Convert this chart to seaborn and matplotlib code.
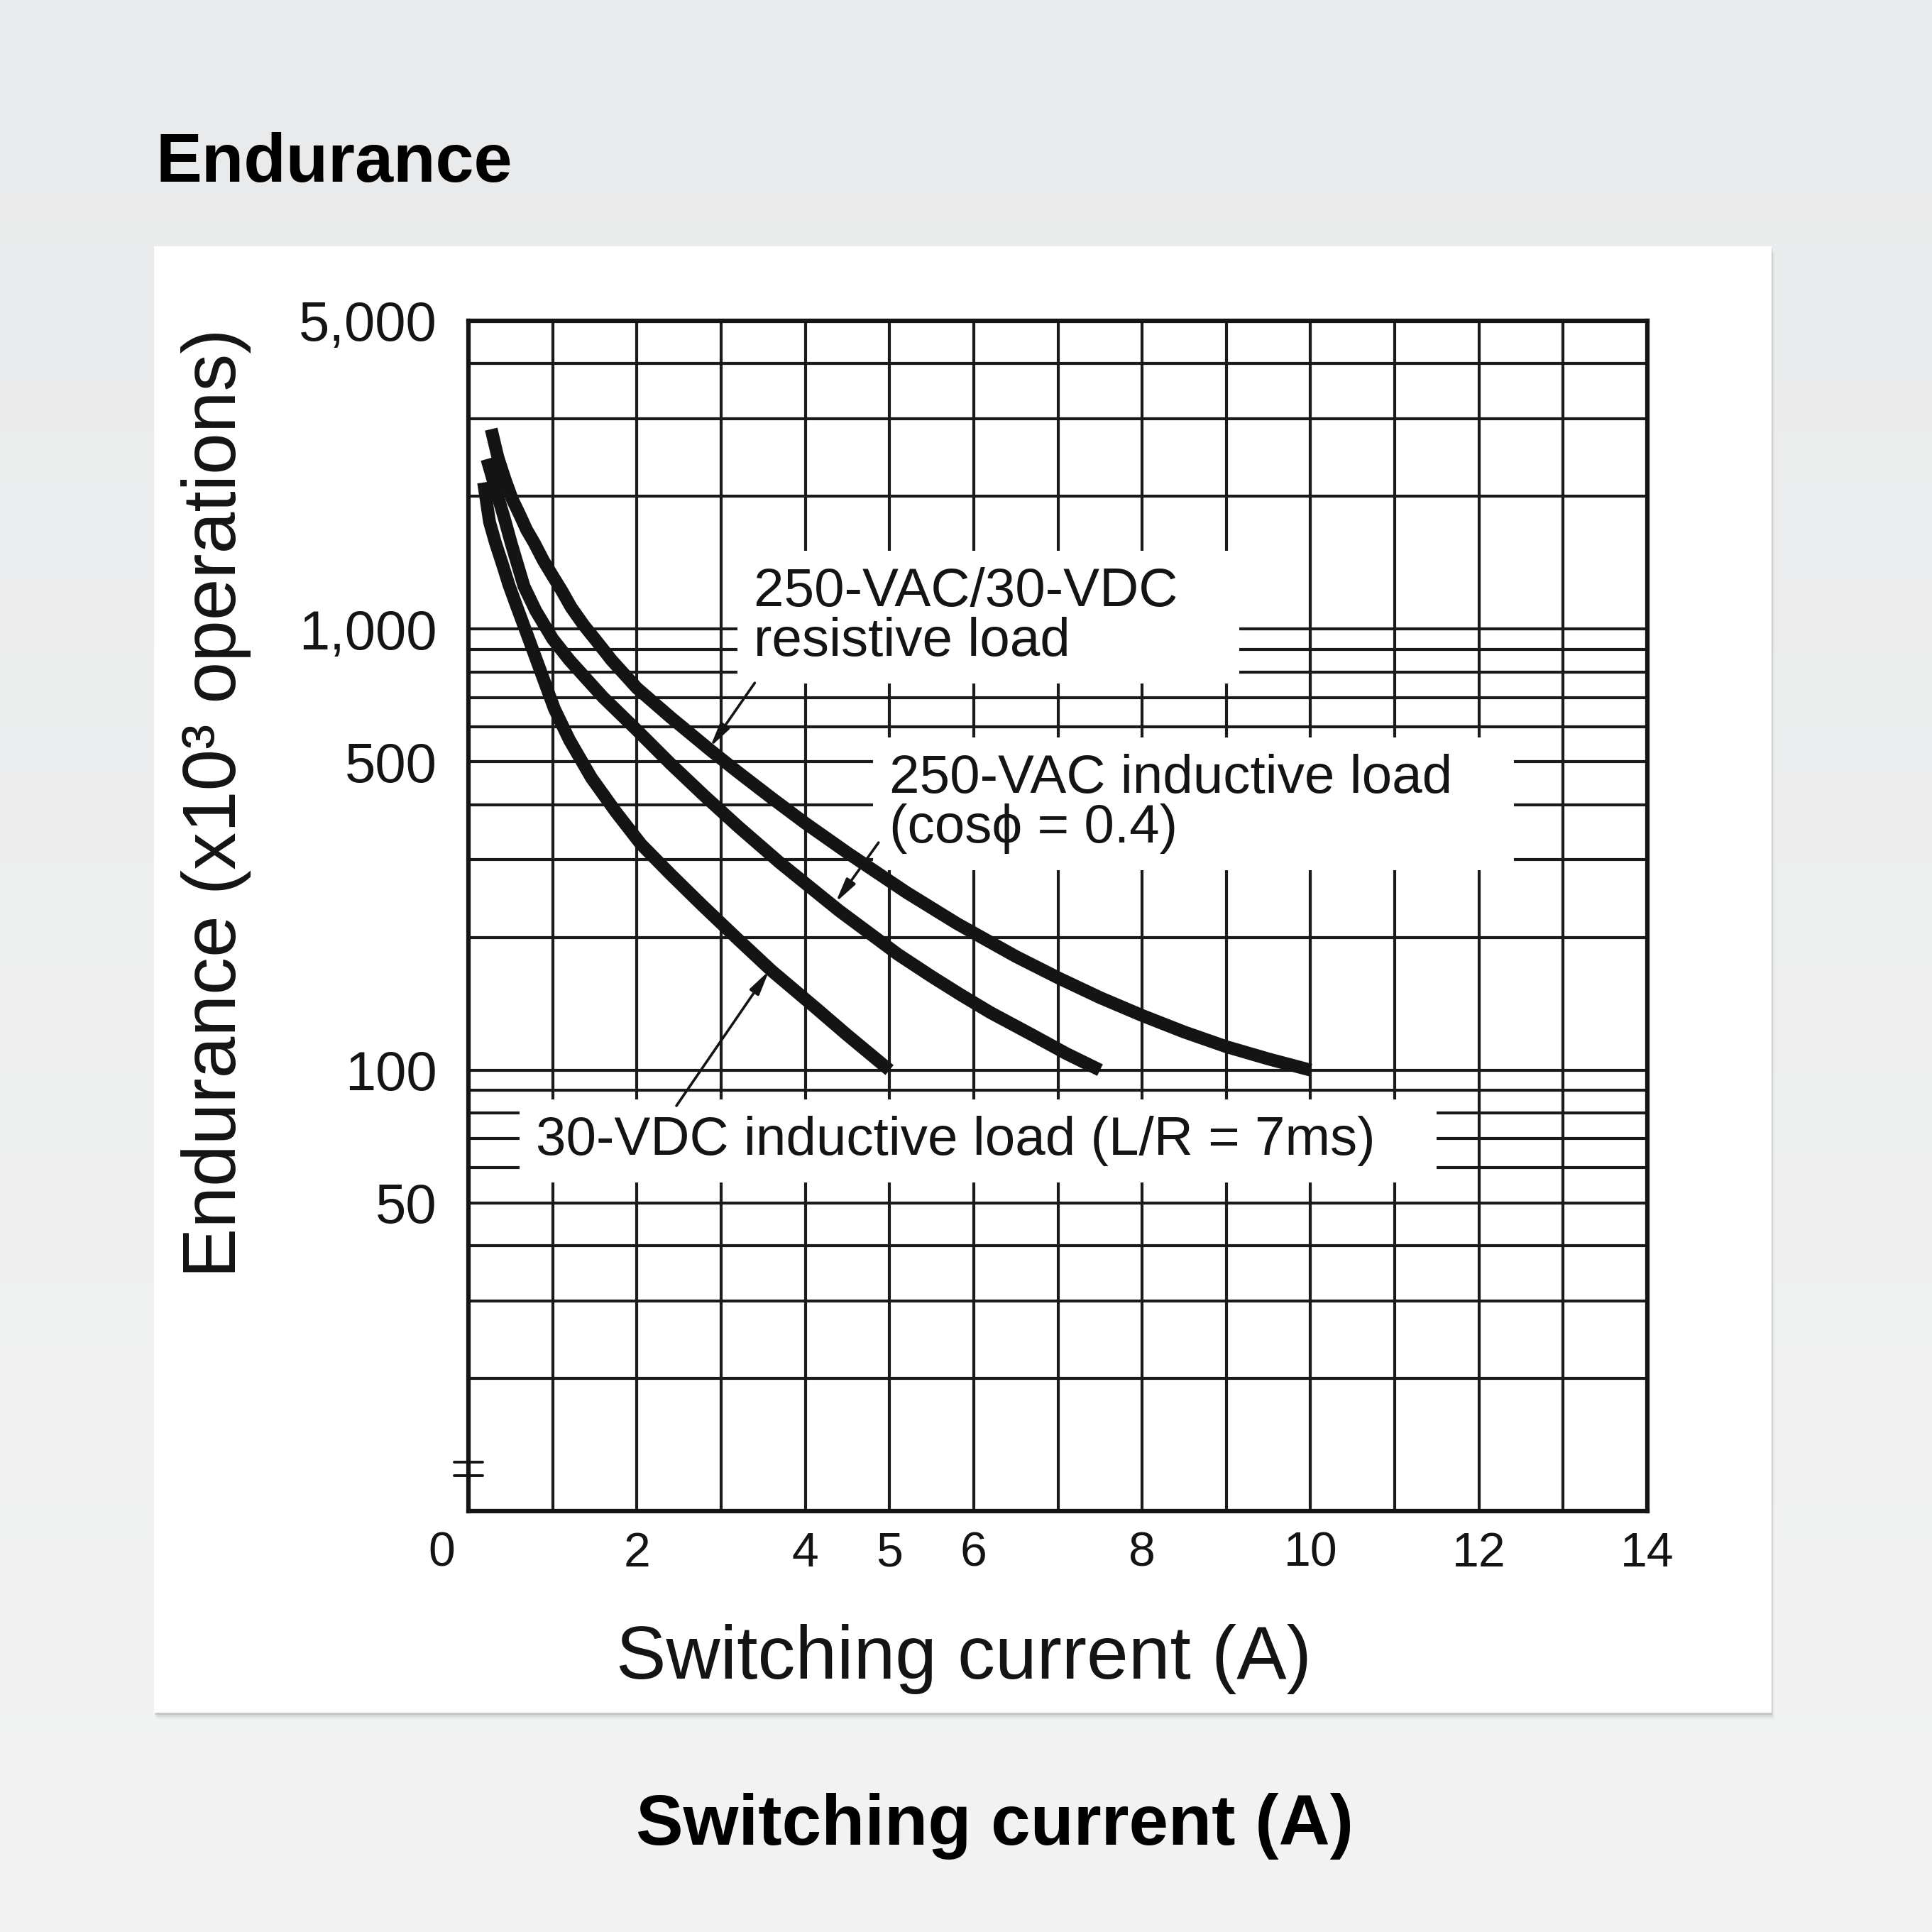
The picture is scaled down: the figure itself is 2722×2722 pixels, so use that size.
import numpy as np
import pandas as pd
import matplotlib
matplotlib.use("Agg")
import matplotlib.pyplot as plt
import matplotlib.transforms as mtransforms
from matplotlib.patches import Rectangle
from matplotlib.colors import LinearSegmentedColormap
from matplotlib import font_manager
import seaborn as sns

# switching current (A) vs endurance (x10^3 operations)
resistive_a = [0.27, 0.35, 0.44, 0.52, 0.61, 0.69, 0.78, 0.89, 1.0, 1.11, 1.22, 1.37, 1.51, 1.7,
               2.0, 2.4, 2.87, 3.2, 3.6, 4.0, 4.5, 5.2, 5.8, 6.5, 7.0, 7.5, 8.0, 8.5, 9.0, 9.5, 10.0]
resistive_k = [2840, 2450, 2170, 1970, 1815, 1680, 1570, 1430, 1320, 1220, 1120, 1020, 945, 850,
               735, 631, 532, 474, 414, 363, 311, 253, 215, 181, 162, 146, 133, 122, 113, 106, 100]

ac_ind_a = [0.22, 0.3, 0.42, 0.51, 0.66, 0.8, 1.0, 1.2, 1.6, 2.0, 2.4, 2.8, 3.2, 3.7, 4.4, 5.1,
            5.5, 5.85, 6.2, 6.7, 7.1, 7.5]
ac_ind_k = [2430, 2150, 1800, 1560, 1250, 1100, 950, 850, 700, 590, 495, 419, 357, 295, 230, 183,
            163, 148, 135, 120, 109, 100]

dc_ind_a = [0.18, 0.25, 0.32, 0.4, 0.48, 0.57, 0.69, 0.78, 1.02, 1.2, 1.46, 1.75, 2.05, 2.4, 2.78,
            3.2, 3.6, 4.13, 4.5, 5.0]
dc_ind_k = [2150, 1750, 1570, 1410, 1260, 1130, 980, 880, 660, 560, 460, 385, 325, 278, 236,
            198, 168, 138, 120, 100]

x_grid = list(range(15))
x_tick_text = ["0", "", "2", "", "4", "5", "6", "", "8", "", "10", "", "12", "", "14"]
y_grid = [10, 20, 30, 40, 50, 60, 70, 80, 90, 100, 200, 300, 400, 500, 600, 700, 800, 900,
          1000, 2000, 3000, 4000, 5000]
y_named = {50: "50", 100: "100", 500: "500", 1000: "1,000", 5000: "5,000"}

curves = pd.concat([
    pd.DataFrame({"current": resistive_a, "endurance": resistive_k, "load": "resistive"}),
    pd.DataFrame({"current": ac_ind_a, "endurance": ac_ind_k, "load": "ac inductive"}),
    pd.DataFrame({"current": dc_ind_a, "endurance": dc_ind_k, "load": "dc inductive"}),
], ignore_index=True)

sns.set_theme(style="white")
plt.rcParams["font.family"] = ["Liberation Sans", "DejaVu Sans"]

installed = {f.name for f in font_manager.fontManager.ttflist}
if "Liberation Sans Narrow" in installed:
    tick_family, tick_size = ["Liberation Sans Narrow", "DejaVu Sans"], 54
else:
    tick_family, tick_size = ["Liberation Sans", "DejaVu Sans"], 49

ink = "#141414"
W = 2722

fig = plt.figure(figsize=(27.22, 27.22), dpi=100)

# grey backdrop, a touch darker at the top
bg = fig.add_axes([0, 0, 1, 1], zorder=-10)
grad = np.linspace(0, 1, 256).reshape(-1, 1)
bg.imshow(grad, aspect="auto", extent=[0, 1, 0, 1],
          cmap=LinearSegmentedColormap.from_list("bg", ["#e9eaeb", "#f3f3f3"]))
bg.axis("off")

# white card with a soft shadow
cx0, cx1 = 217 / W, 2496 / W
cy0, cy1 = 1 - 2413 / W, 1 - 347 / W
for k, a in [(9, 0.10), (6, 0.18), (3, 0.30)]:
    fig.patches.append(Rectangle((cx0 + k / W * 0.4, cy0 - k / W), cx1 - cx0, cy1 - cy0,
                                 transform=fig.transFigure, facecolor="#9a9a9a",
                                 alpha=a, edgecolor="none", zorder=-6))
fig.patches.append(Rectangle((cx0, cy0), cx1 - cx0, cy1 - cy0, transform=fig.transFigure,
                             facecolor="white", edgecolor="none", zorder=-5))

ax = fig.add_axes([660 / W, 1 - 2129 / W, (2321 - 660) / W, (2129 - 452) / W])
ax.set_facecolor("white")

sns.lineplot(data=curves, x="current", y="endurance", hue="load",
             palette=[ink, ink, ink], estimator=None, sort=False,
             linewidth=13, legend=False, ax=ax, zorder=3)
for ln in ax.lines:
    ln.set_solid_capstyle("butt")
    ln.set_solid_joinstyle("round")

ax.set_yscale("log")
ax.set_xlim(0, 14)
ax.set_ylim(10, 5000)
ax.set_xticks(x_grid)
ax.set_xticklabels(x_tick_text)
ax.set_yticks(y_grid)
ax.set_yticklabels([y_named.get(v, "") for v in y_grid])
ax.yaxis.set_minor_locator(matplotlib.ticker.NullLocator())
ax.set_axisbelow(True)
ax.grid(True, which="major", color="#1a1a1a", linewidth=3.0)
ax.tick_params(axis="both", length=0, colors=ink)
ax.tick_params(axis="y", pad=32, labelsize=56)
ax.tick_params(axis="x", pad=20, labelsize=tick_size)
for lab in ax.get_xticklabels():
    lab.set_family(tick_family)
for s in ax.spines.values():
    s.set_visible(True)
    s.set_linewidth(4.5)
    s.set_color(ink)
ax.set_xlabel("")
ax.set_ylabel("")

# axis break mark near the bottom of the y axis
for yb in (0.041, 0.030):
    ax.plot([-0.012, 0.012], [yb, yb], transform=ax.transAxes, color=ink,
            linewidth=2.8, clip_on=False, zorder=5)

ax.text(-0.214, 0.595, "Endurance (x10³ operations)", transform=ax.transAxes,
        rotation=90, ha="center", va="center", fontsize=76, color=ink)
ax.text(0.420, -0.141, "Switching current (A)", transform=ax.transAxes,
        ha="center", va="baseline", fontsize=76, color=ink)

# white boxes behind the labels reach further right than the text
box = dict(boxstyle="square,pad=0.3", facecolor="white", edgecolor="none")
ax.text(3.39, 1382, "250-VAC/30-VDC   \nresistive load", ha="left", va="top",
        fontsize=55, color=ink, linespacing=0.98, bbox=box, zorder=2)
ax.text(5.0, 521, "250-VAC inductive load   \n(cosϕ = 0.4)", ha="left", va="top",
        fontsize=55, color=ink, linespacing=0.98, bbox=box, zorder=2,
        family=["Liberation Sans", "DejaVu Sans"])
ax.text(0.80, 78.7, "30-VDC inductive load (L/R = 7ms)   ", ha="left", va="top",
        fontsize=55, color=ink, bbox=box, zorder=2)

arrow = dict(arrowstyle="-|>,head_length=1.7,head_width=0.38", color=ink,
             linewidth=2.6, shrinkA=0, shrinkB=0)
ax.annotate("", xy=(2.87, 540), xytext=(3.40, 755), arrowprops=arrow, zorder=4)
ax.annotate("", xy=(4.36, 240), xytext=(4.87, 328), arrowprops=arrow, zorder=4)
ax.annotate("", xy=(3.57, 168), xytext=(2.47, 83), arrowprops=arrow, zorder=4)

# the "0" sits a little left of the axis in the original
zero = ax.xaxis.get_major_ticks()[0].label1
zero.set_transform(zero.get_transform() + mtransforms.ScaledTranslation(-0.38, 0, fig.dpi_scale_trans))

fig.text(0.0808, 0.9058, "Endurance", ha="left", va="baseline", fontsize=70,
         fontweight="bold", color="black")
fig.text(0.515, 0.0452, "Switching current (A)", ha="center", va="baseline",
         fontsize=72, fontweight="bold", color="black")

fig.savefig("out.png", dpi=100)
